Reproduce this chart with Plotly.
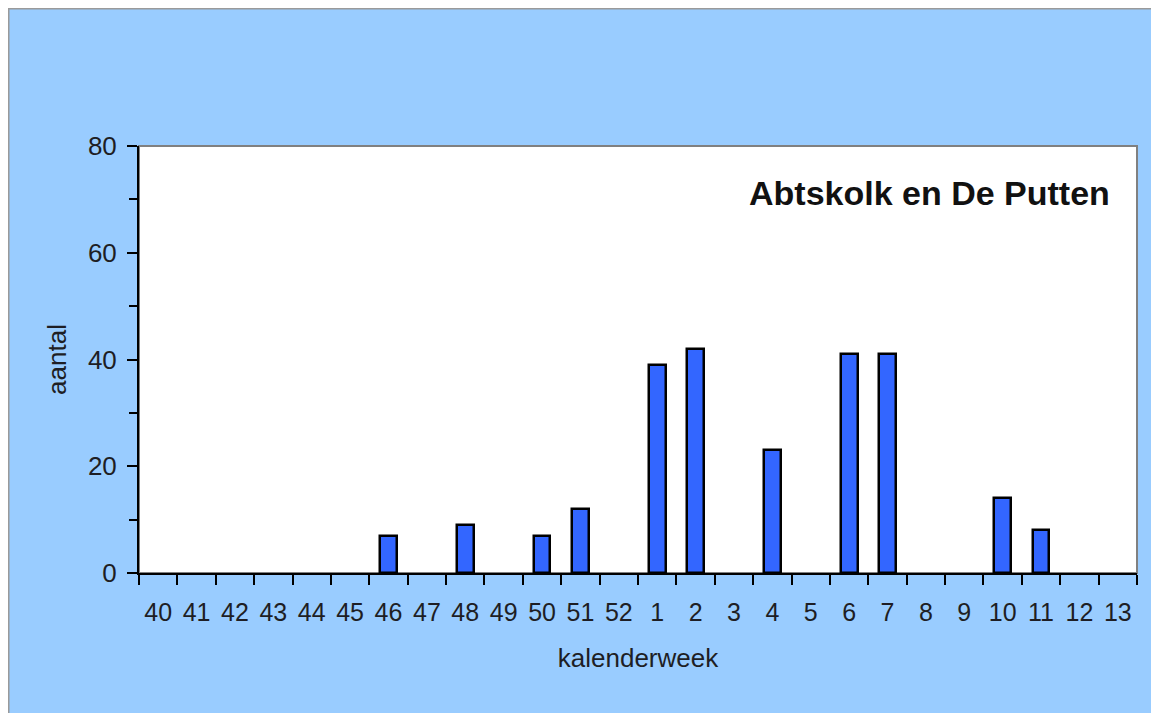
import plotly.graph_objects as go

weeks = ["40", "41", "42", "43", "44", "45", "46", "47", "48", "49", "50", "51", "52",
         "1", "2", "3", "4", "5", "6", "7", "8", "9", "10", "11", "12", "13"]
aantal = [0, 0, 0, 0, 0, 0, 7, 0, 9, 0, 7, 12, 0,
          39, 42, 0, 23, 0, 41, 41, 0, 0, 14, 8, 0, 0]
title_text = "Abtskolk en De Putten"

# figure sits inside an 8px page margin
W, H = 1151, 705
L, R, T, B = 131, 22, 138, 140
pw, ph = W - L - R, H - T - B

def px_x(p):
    return (p - L) / pw

def px_y(p):
    return (H - B - p) / ph

font = "Liberation Sans, Arial, sans-serif"

fig = go.Figure(go.Bar(
    x=weeks, y=aantal, width=0.44,
    marker=dict(color="#3366FF",
                line=dict(color="black", width=[2.5 if v > 0 else 0 for v in aantal])),
))

# outer border along top and left edges of the chart area
shapes = [
    dict(type="rect", xref="paper", yref="paper", x0=0, x1=1, y0=0, y1=1,
         line=dict(color="#808080", width=2), fillcolor="rgba(0,0,0,0)", layer="below"),
    dict(type="line", xref="paper", yref="paper",
         x0=px_x(0), x1=px_x(W), y0=px_y(0.75), y1=px_y(0.75),
         line=dict(color="#9a9a9a", width=1.5)),
    dict(type="line", xref="paper", yref="paper",
         x0=px_x(0.75), x1=px_x(0.75), y0=px_y(0), y1=px_y(H),
         line=dict(color="#9a9a9a", width=1.5)),
]

fig.update_layout(
    width=W, height=H,
    margin=dict(l=L, r=R, t=T, b=B, pad=0),
    paper_bgcolor="#99CCFF",
    plot_bgcolor="white",
    showlegend=False,
    bargap=0,
    font=dict(family=font, size=26, color="#1e1e24"),
    shapes=shapes,
    annotations=[dict(
        text="<b>" + title_text + "</b>", xref="paper", yref="paper",
        x=px_x(1104), y=px_y(185), xanchor="right", yanchor="middle",
        showarrow=False, font=dict(family=font, size=34, color="#111111"),
    )],
    xaxis=dict(
        type="category", tickson="boundaries", ticks="outside", ticklen=10,
        tickwidth=2, tickcolor="black", showline=True, linecolor="black",
        linewidth=2, showgrid=False, tickfont=dict(size=25), tickangle=0,
        ticklabelstandoff=16,
        title=dict(text="kalenderweek", font=dict(size=26), standoff=24),
        range=[-0.5, 25.5],
    ),
    yaxis=dict(
        range=[0, 80], dtick=20, ticks="outside", ticklen=10, tickwidth=2,
        tickcolor="black", showline=True, linecolor="black", linewidth=2,
        showgrid=False, zeroline=False, tickfont=dict(size=26),
        ticklabelstandoff=5,
        minor=dict(dtick=10, ticks="outside", ticklen=8, tickwidth=2, tickcolor="black"),
        title=dict(text="aantal", font=dict(size=26), standoff=14),
    ),
)

fig.write_html("out.html",
               post_script="document.documentElement.style.overflow='hidden';"
                           "document.body.style.overflow='hidden';")
